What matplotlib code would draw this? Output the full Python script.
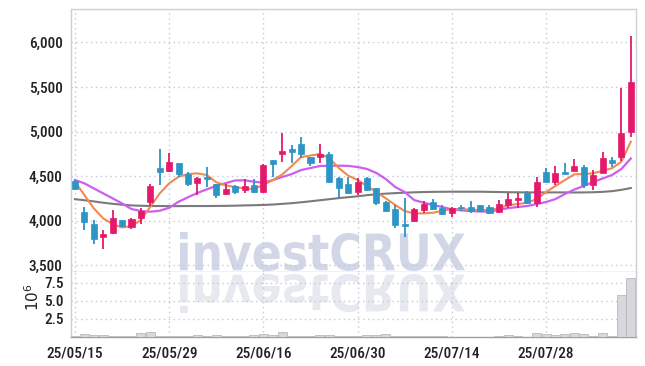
import matplotlib
matplotlib.use("Agg")
import matplotlib.pyplot as plt
import numpy as np
from matplotlib.textpath import TextPath
from matplotlib.font_manager import FontProperties, findfont
from matplotlib.patches import PathPatch
from matplotlib.transforms import Affine2D

# ---------------- data ----------------
dates = ['25/05/15', '25/05/16', '25/05/19', '25/05/20', '25/05/21', '25/05/22', '25/05/23', '25/05/26',
         '25/05/27', '25/05/28', '25/05/29', '25/05/30', '25/06/02', '25/06/04', '25/06/05', '25/06/09',
         '25/06/10', '25/06/11', '25/06/12', '25/06/13', '25/06/16', '25/06/17', '25/06/18', '25/06/19',
         '25/06/20', '25/06/23', '25/06/24', '25/06/25', '25/06/26', '25/06/27', '25/06/30', '25/07/01',
         '25/07/02', '25/07/03', '25/07/04', '25/07/07', '25/07/08', '25/07/09', '25/07/10', '25/07/11',
         '25/07/14', '25/07/15', '25/07/16', '25/07/17', '25/07/18', '25/07/21', '25/07/22', '25/07/23',
         '25/07/24', '25/07/25', '25/07/28', '25/07/29', '25/07/30', '25/07/31', '25/08/01', '25/08/04',
         '25/08/05', '25/08/06', '25/08/07', '25/08/08']
tick_labels = ['25/05/15', '25/05/29', '25/06/16', '25/06/30', '25/07/14', '25/07/28']

opens = [4447, 4099, 3960, 3810, 3862, 4005, 3930, 4031, 4211, 4587,
         4560, 4643, 4522, 4418, 4489, 4407, 4301, 4388, 4339, 4399,
         4317, 4680, 4750, 4804, 4860, 4710, 4710, 4747, 4481, 4410,
         4317, 4481, 4361, 4211, 4129, 3960, 3998, 4118, 4208, 4140,
         4080, 4150, 4155, 4170, 4148, 4099, 4174, 4230, 4305, 4200,
         4545, 4436, 4537, 4560, 4597, 4399, 4537, 4680, 4717, 4998]
highs = [4460, 4155, 4005, 3893, 4118, 4010, 4024, 4136, 4407, 4800,
         4755, 4650, 4548, 4490, 4597, 4415, 4407, 4395, 4466, 4463,
         4630, 4685, 4980, 4848, 4935, 4715, 4856, 4770, 4490, 4492,
         4474, 4490, 4370, 4220, 4174, 4249, 4140, 4215, 4240, 4174,
         4150, 4174, 4215, 4180, 4174, 4230, 4305, 4305, 4330, 4485,
         4590, 4610, 4643, 4688, 4620, 4567, 4770, 4717, 5486, 6074]
lows = [4340, 3893, 3735, 3680, 3848, 3930, 3900, 3960, 4163, 4400,
        4548, 4492, 4387, 4286, 4380, 4256, 4290, 4301, 4313, 4313,
        4310, 4492, 4654, 4643, 4700, 4615, 4651, 4420, 4256, 4300,
        4290, 4330, 4170, 4095, 3915, 3818, 3985, 4080, 4120, 4060,
        4040, 4110, 4080, 4095, 4070, 4090, 4137, 4140, 4190, 4155,
        4430, 4400, 4522, 4555, 4370, 4343, 4530, 4605, 4672, 4935]
closes = [4350, 3980, 3788, 3848, 4024, 3938, 4016, 4110, 4391, 4548,
          4661, 4519, 4410, 4481, 4463, 4286, 4354, 4324, 4384, 4324,
          4624, 4635, 4785, 4774, 4751, 4643, 4747, 4436, 4361, 4313,
          4436, 4343, 4192, 4110, 3952, 3938, 4125, 4185, 4129, 4073,
          4137, 4137, 4103, 4103, 4088, 4185, 4241, 4256, 4193, 4433,
          4436, 4530, 4522, 4612, 4399, 4511, 4702, 4650, 4980, 5553]
ma_short = [4436, 4286, 4137, 4024, 3960, 3922, 3938, 4005, 4155, 4305,
            4418, 4492, 4522, 4530, 4511, 4430, 4395, 4376, 4360, 4354,
            4399, 4455, 4517, 4612, 4713, 4730, 4747, 4702, 4590, 4505,
            4455, 4388, 4320, 4249, 4174, 4107, 4080, 4080, 4088, 4110,
            4129, 4129, 4122, 4118, 4118, 4137, 4174, 4185, 4200, 4241,
            4320, 4388, 4455, 4519, 4522, 4530, 4560, 4587, 4661, 4886]
ma_mid = [4455, 4418, 4361, 4305, 4249, 4192, 4129, 4107, 4099, 4110,
          4144, 4211, 4262, 4310, 4350, 4390, 4420, 4450, 4452, 4436,
          4425, 4455, 4489, 4522, 4567, 4590, 4612, 4616, 4616, 4614,
          4601, 4579, 4534, 4466, 4376, 4320, 4230, 4201, 4174, 4152,
          4125, 4114, 4107, 4101, 4101, 4120, 4140, 4152, 4163, 4185,
          4208, 4241, 4298, 4348, 4388, 4433, 4472, 4511, 4579, 4697]
ma_long = [4240, 4228, 4215, 4200, 4188, 4178, 4170, 4166, 4163, 4163,
           4162, 4162, 4163, 4163, 4163, 4164, 4165, 4167, 4170, 4172,
           4175, 4180, 4187, 4195, 4205, 4216, 4228, 4240, 4252, 4262,
           4272, 4285, 4295, 4302, 4308, 4313, 4317, 4320, 4322, 4323,
           4324, 4324, 4324, 4324, 4322, 4320, 4318, 4317, 4316, 4316,
           4316, 4316, 4316, 4315, 4316, 4318, 4322, 4330, 4345, 4365]
volume_m = [0.2, 0.45, 0.3, 0.25, 0.12, 0.08, 0.2, 0.55, 0.75, 0.1,
            0.08, 0.1, 0.1, 0.25, 0.12, 0.25, 0.08, 0.1, 0.12, 0.25,
            0.45, 0.25, 0.7, 0.2, 0.08, 0.08, 0.25, 0.25, 0.12, 0.12,
            0.12, 0.25, 0.25, 0.35, 0.2, 0.2, 0.1, 0.08, 0.08, 0.08,
            0.06, 0.06, 0.05, 0.05, 0.05, 0.08, 0.25, 0.12, 0.06, 0.6,
            0.4, 0.25, 0.4, 0.6, 0.4, 0.15, 0.6, 0.08, 5.77, 8.1]
price_ticks = [3500, 4000, 4500, 5000, 5500, 6000]
vol_ticks = [2.5, 5.0, 7.5]

# ---------------- style ----------------
UP = '#e3196b'
DOWN = '#2d94c6'
GRID = '#c5c8d8'
TXT = '#222222'


def pick_font():
    for f in ['Liberation Sans Narrow', 'DejaVu Sans Condensed', 'Roboto Condensed', 'Roboto']:
        try:
            findfont(FontProperties(family=f), fallback_to_default=False)
            return f
        except Exception:
            continue
    return 'DejaVu Sans'


FONT = pick_font()
tick_font = {'family': FONT, 'size': 11, 'color': TXT, 'weight': 'medium'}

W, H = 645, 366
fig = plt.figure(figsize=(W / 100, H / 100), dpi=100)
L, R = 71 / W, 636 / W
ax = fig.add_axes([L, 1 - 272 / H, R - L, (272 - 9) / H])
axv = fig.add_axes([L, 1 - 337 / H, R - L, (337 - 272) / H], sharex=ax)

n = len(closes)
x = np.arange(n)
o = np.array(opens); c = np.array(closes); hi = np.array(highs); lo = np.array(lows)
up = c >= o
cols = np.where(up, UP, DOWN)

# wicks
ax.vlines(x, lo, hi, colors=cols, linewidth=1.3, zorder=3)
# bodies
body_bot = np.minimum(o, c)
body_h = np.maximum(np.abs(c - o), 18)
ax.bar(x, body_h, bottom=body_bot, width=0.64, color=cols, edgecolor=cols, linewidth=0.5, zorder=4)

# moving averages
ax.plot(x, ma_long, color='#7a7a7a', lw=1.5, zorder=2)
ax.plot(x, ma_mid, color='#cc5ef0', lw=1.6, zorder=2)
ax.plot(x, ma_short, color='#f08a50', lw=1.5, zorder=2)

# volume
axv.bar(x, volume_m, width=0.96, color='#d8d8dc', edgecolor='#b9b9be', linewidth=0.6, zorder=3)

tick_pos = [dates.index(t) for t in tick_labels]

for a in (ax, axv):
    a.set_xlim(-0.42, 59.55)
    a.grid(True, color=GRID, linestyle=(0, (1, 2.5)), linewidth=1.0)
    a.set_axisbelow(True)
    a.tick_params(length=0)
    for s in a.spines.values():
        s.set_color('#d0d0d0')
        s.set_linewidth(1.0)

ax.set_ylim(3422, 6376)
ax.set_yticks(price_ticks)
ax.set_yticklabels([f'{v:,}' for v in price_ticks], fontdict=tick_font)
ax.tick_params(axis='y', pad=6)
ax.set_xticks(tick_pos)
ax.tick_params(axis='x', labelbottom=False)
ax.spines['bottom'].set_color('#c0c0c0')

axv.set_ylim(0, 8.95)
axv.set_yticks(vol_ticks)
axv.set_yticklabels([f'{v:.1f}' for v in vol_ticks], fontdict=tick_font)
axv.tick_params(axis='y', pad=5)
axv.set_xticks(tick_pos)
axv.set_xticklabels(tick_labels, fontdict=tick_font)
axv.tick_params(axis='x', pad=7)
axv.spines['top'].set_visible(False)
axv.spines['bottom'].set_color('#a0a0a0')
axv.set_ylabel(r'$10^6$', fontsize=11, color=TXT, va='center')
axv.yaxis.set_label_coords(-0.067, 0.62)

# watermark "investCRUX" with reflection
tp = TextPath((0, 0), 'investCRUX', size=100, prop=FontProperties(family='DejaVu Sans', weight='bold'))
bb = tp.get_extents()
sx = (465 - 180) / bb.width
sy = 39 / bb.height
t_main = Affine2D().translate(-bb.x0, -bb.y0).scale(sx, sy).translate(180, H - 271)
t_refl = Affine2D().translate(-bb.x0, -bb.y0).scale(sx, -sy).translate(180, H - 274)
ax.add_patch(PathPatch(tp, transform=t_main, facecolor='#d2d7e8', edgecolor='none', zorder=0.2))
axv.add_patch(PathPatch(tp, transform=t_refl, facecolor='#e7e9f1', edgecolor='none', zorder=0.2))

fig.savefig('out.png', dpi=100)
